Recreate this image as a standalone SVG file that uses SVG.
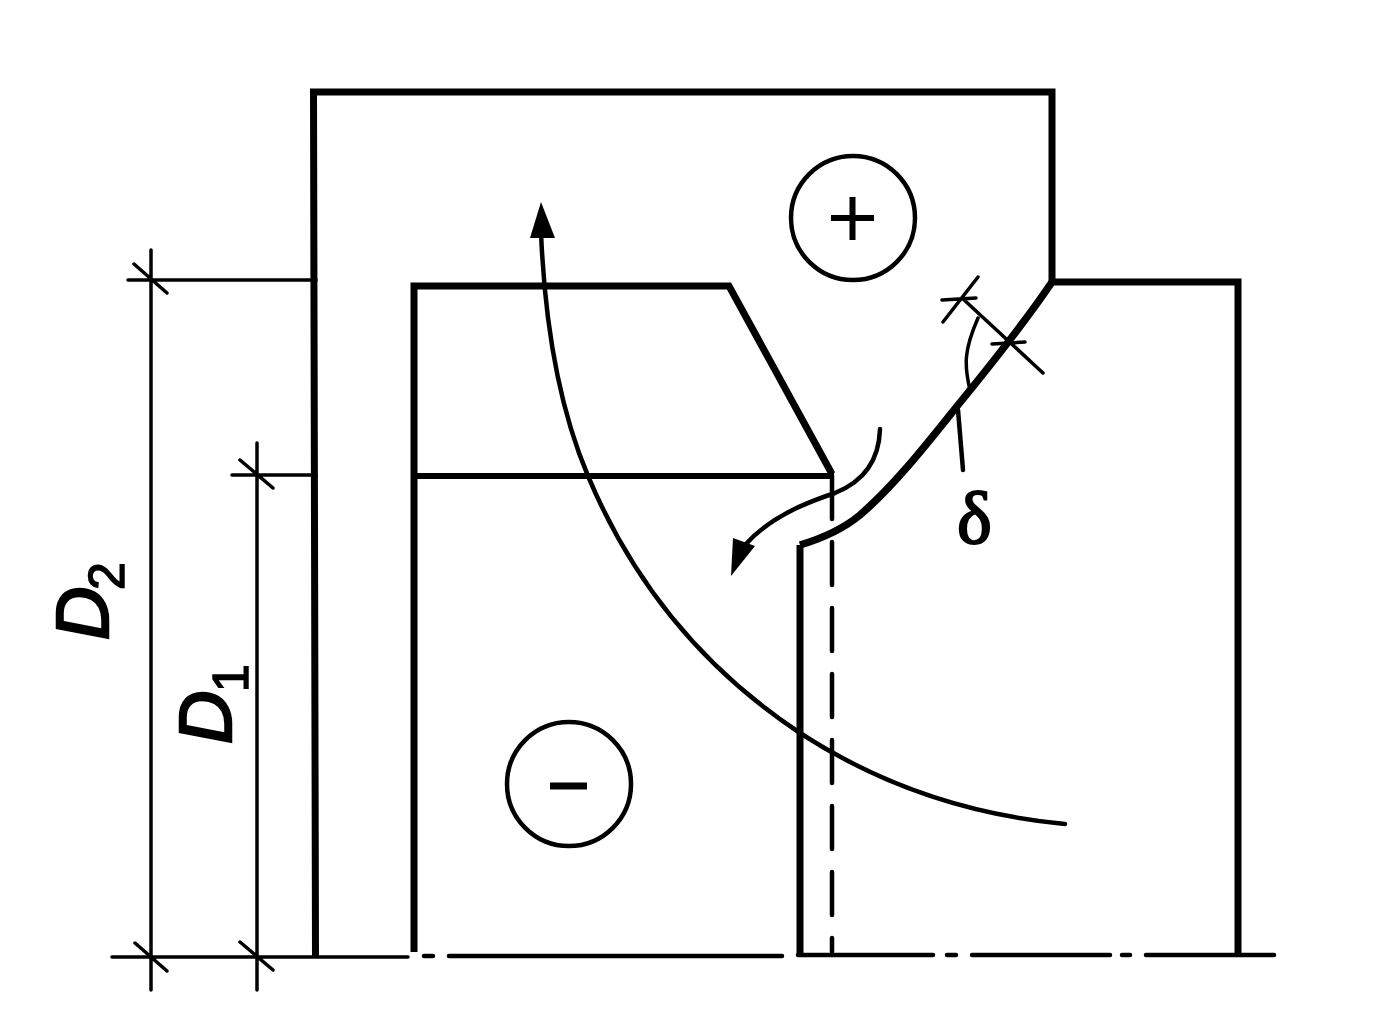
<svg xmlns="http://www.w3.org/2000/svg" width="1373" height="1013" viewBox="0 0 1373 1013">
<style>
.k{fill:none;stroke:#000;stroke-width:7;stroke-linejoin:miter}
.j{fill:none;stroke:#000;stroke-width:6}
.m{fill:none;stroke:#000;stroke-width:4.5;stroke-linecap:round}
.t{fill:none;stroke:#000;stroke-width:3.5;stroke-linecap:round}
.l{font-family:"Liberation Sans",Arial,sans-serif;font-style:italic;fill:#000;stroke:#000;stroke-width:2.5}
.n{font-family:"Liberation Sans",Arial,sans-serif;fill:#000;stroke:#000;stroke-width:1.5}
</style>
<rect width="1373" height="1013" fill="#fff"/>
<g id="outlines">
<path class="k" d="M315.5 957L313.5 92H1052V282H1238V955"/>
<path fill="none" stroke="#000" stroke-width="7.5" d="M1052 282C1025 322 985 372 958 405C930 440 895 485 860 515C842 530 820 539 800 545"/>
<path class="k" d="M800 955V545"/>
<path class="k" d="M414 952V286H729L832 474"/>
<path class="j" d="M414 476H834"/>
<path class="m" d="M832 476V952" stroke-dasharray="43 23"/>
<path class="m" d="M772 956H782M798 955H933M947 955H956M972 955H1110M1122 955H1130M1146 955H1274M424 956H433M449 956H780"/>
</g>
<g id="connectors">
<path class="m" d="M541 232C545 330 560 410 588 476C640 600 720 680 800 733C880 785 970 815 1065 824"/>
<path d="M541 202L530 238H555Z" fill="#000"/>
<path class="m" d="M880 429C879 465 860 483 835 493C805 503 770 517 745 545"/>
<path d="M731 576L733 538L755 546Z" fill="#000"/>
<path class="t" d="M316 280H128M151 250V990M316 475H232M257 443V990M112 957H408M134 264L167 293M240 460L273 488M135 943L167 971M240 942L273 970"/>
<path class="t" d="M962 298L1043 373M943 322L978 277M942 300L976 298M992 344L1025 342M978 318C964 350 964 365 970 390"/>
<path class="m" d="M958 410L963 470"/>
</g>
<g id="plus"><circle class="m" cx="853" cy="218" r="62"/><path class="j" d="M852.5 197V240M831 218H874"/></g>
<g id="minus"><circle class="m" cx="569" cy="784" r="62"/><path class="k" d="M550 786H587"/></g>
<g id="labels">
<text class="l" font-size="74" transform="translate(108 640) rotate(-90)">D</text>
<text class="n" font-size="50" transform="translate(124 590) rotate(-90)">2</text>
<text class="l" font-size="74" transform="translate(231 744) rotate(-90)">D</text>
<text class="n" font-size="50" transform="translate(248 692) rotate(-90)">1</text>
<text x="957" y="543" font-size="74" style="font-family:'Liberation Serif','DejaVu Serif',serif;stroke:#000;stroke-width:2">δ</text>
</g>
</svg>
